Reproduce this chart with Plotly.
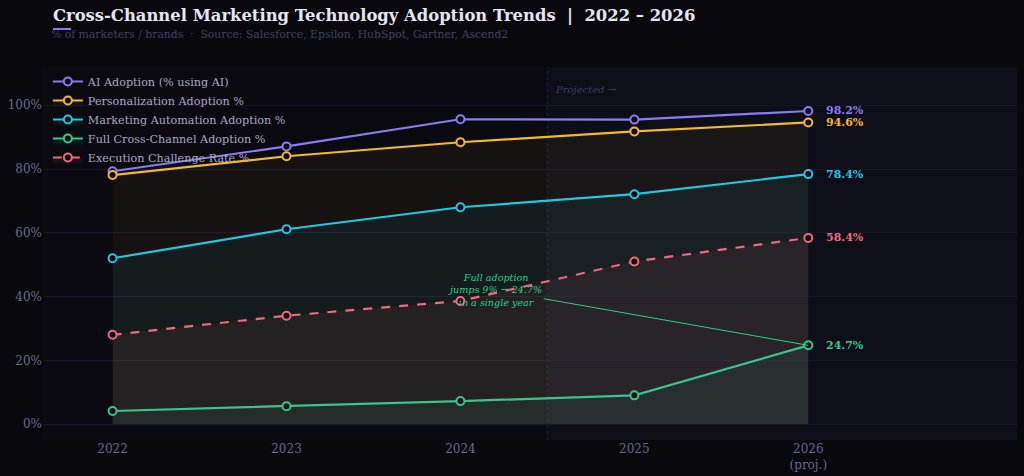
import plotly.graph_objects as go

years = [2022, 2023, 2024, 2025, 2026]
tick_labels = ["2022", "2023", "2024", "2025", "2026<br>(proj.)"]
y_ticks = [0, 20, 40, 60, 80, 100]
y_tick_labels = ["0%", "20%", "40%", "60%", "80%", "100%"]

ai_adoption = [79.3, 87.1, 95.6, 95.5, 98.2]
personalization = [78.1, 84.0, 88.4, 91.8, 94.6]
marketing_automation = [52.0, 61.1, 68.0, 72.1, 78.4]
full_cross_channel = [4.1, 5.6, 7.2, 9.0, 24.7]
execution_challenge = [28.0, 34.0, 38.6, 51.0, 58.4]

series = [
    ("AI Adoption (% using AI)", ai_adoption, "#8b7cf0", "solid", None),
    ("Personalization Adoption %", personalization, "#f5b82e", "solid", "rgba(245,184,46,0.05)"),
    ("Marketing Automation Adoption %", marketing_automation, "#22c7e3", "solid", "rgba(34,199,227,0.06)"),
    ("Full Cross-Channel Adoption %", full_cross_channel, "#2ecc8f", "solid", "rgba(46,204,143,0.07)"),
    ("Execution Challenge Rate %", execution_challenge, "#f06a7a", "dash", "rgba(240,106,122,0.07)"),
]

FONT = "DejaVu Serif"
BG = "#08080d"

fig = go.Figure()

for name, vals, color, dash, fillc in series:
    fig.add_trace(go.Scatter(
        x=years, y=vals, name=name, mode="lines+markers",
        line=dict(color=color, width=2.2, dash=dash),
        marker=dict(size=8, color="#0a0a10", line=dict(color=color, width=2)),
        fill="tozeroy" if fillc else None,
        fillcolor=fillc,
    ))

# projected region
fig.add_shape(type="rect", xref="x", yref="paper", x0=2024.5, x1=2027.2, y0=0, y1=1,
              fillcolor="rgba(22,22,40,0.35)", line_width=0, layer="below")
fig.add_shape(type="line", xref="x", yref="paper", x0=2024.5, x1=2024.5, y0=0, y1=1,
              line=dict(color="#22223a", width=1, dash="dot"), layer="below")
fig.add_annotation(x=2024.53, y=105, xref="x", yref="y", text="<i>Projected →</i>",
                   showarrow=False, xanchor="left", font=dict(family=FONT, size=10, color="#3e3e5c"))

# end labels
for name, vals, color, dash, fillc in series:
    fig.add_annotation(x=years[-1], y=vals[-1], text=f"<b>{vals[-1]:.1f}%</b>", showarrow=False,
                       xanchor="left", xshift=16, font=dict(family=FONT, size=11, color=color))

# callout
fig.add_annotation(x=2026, y=full_cross_channel[-1], ax=2024.2, ay=42, axref="x", ayref="y",
                   text="<i>Full adoption<br>jumps 9% → 24.7%<br>in a single year</i>",
                   showarrow=True, arrowhead=0, arrowwidth=1, arrowcolor="#2ecc8f",
                   font=dict(family=FONT, size=9.6, color="#2ecc8f"))

# title + subtitle
fig.add_annotation(xref="paper", yref="paper", x=0.008, y=1.139, xanchor="left", yanchor="middle",
                   text="<b>Cross-Channel Marketing Technology Adoption Trends  |  2022 – 2026</b>",
                   showarrow=False, font=dict(family=FONT, size=16.4, color="#e6e6f0"))
fig.add_annotation(xref="paper", yref="paper", x=0.006, y=1.086, xanchor="left", yanchor="middle",
                   text="% of marketers / brands  ·  Source: Salesforce, Epsilon, HubSpot, Gartner, Ascend2",
                   showarrow=False, font=dict(family=FONT, size=10.8, color="#42425e"))
fig.add_shape(type="line", xref="paper", yref="paper", x0=0.0103, x1=0.0287, y0=1.102, y1=1.102,
              line=dict(color="#8b7cf0", width=2))

fig.update_layout(
    width=1024, height=476,
    margin=dict(l=43, r=7, t=67, b=36),
    paper_bgcolor=BG, plot_bgcolor="#0a0a10",
    font=dict(family=FONT, color="#6a6a8a"),
    showlegend=True,
    legend=dict(x=0.005, y=1.0, xanchor="left", yanchor="top", bgcolor="rgba(0,0,0,0)",
                font=dict(family=FONT, size=11.2, color="#a8a8c0"), tracegroupgap=0,
                itemwidth=30),
    xaxis=dict(range=[2021.6, 2027.2], tickvals=years, ticktext=tick_labels, showgrid=False,
               zeroline=False, automargin=False,
               tickfont=dict(family=FONT, size=12, color="#6a6a8a"), ticks=""),
    yaxis=dict(range=[-5, 112], tickvals=y_ticks, ticktext=y_tick_labels, automargin=False,
               gridcolor="#16162a", gridwidth=1, zeroline=False,
               tickfont=dict(family=FONT, size=12, color="#6a6a8a"), ticks=""),
)

fig.write_html("out.html")
